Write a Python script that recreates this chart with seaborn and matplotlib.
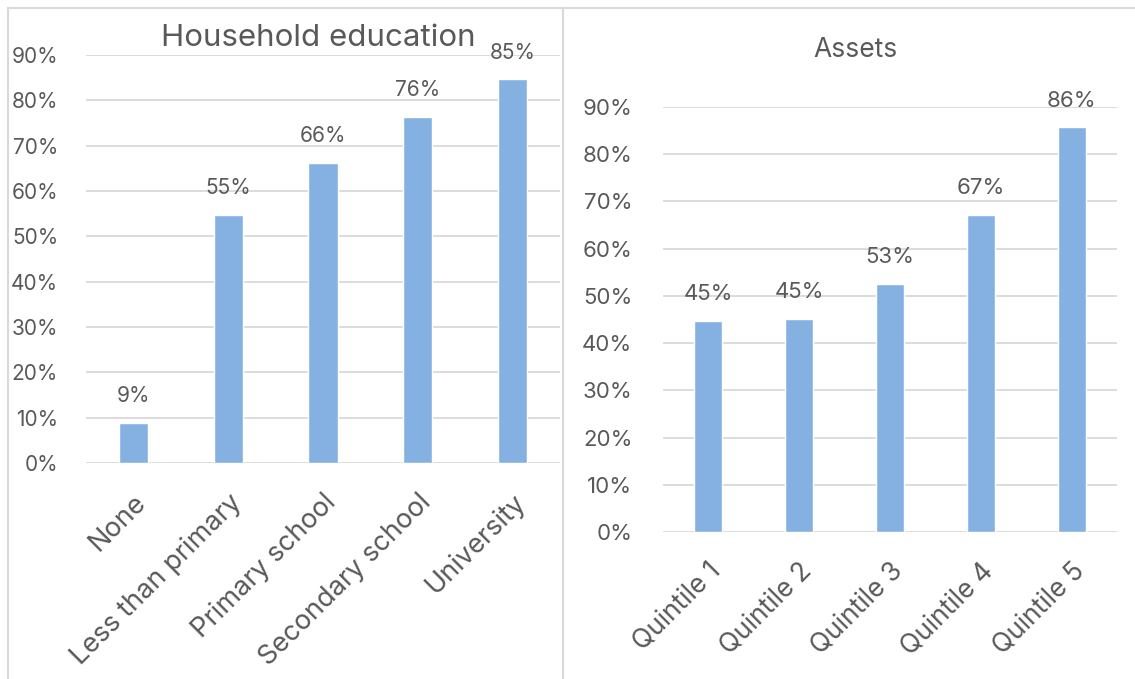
import numpy as np
import pandas as pd
import matplotlib
matplotlib.use("Agg")
import matplotlib.pyplot as plt
from matplotlib.lines import Line2D
from matplotlib.ticker import PercentFormatter
import seaborn as sns

# Data
edu_levels = ["None", "Less than primary", "Primary school", "Secondary school", "University"]
edu_share = [0.088, 0.547, 0.662, 0.764, 0.846]

asset_groups = ["Quintile 1", "Quintile 2", "Quintile 3", "Quintile 4", "Quintile 5"]
asset_share = [0.447, 0.451, 0.526, 0.672, 0.857]

bar_color = "#85B1E2"
text_color = "#595959"
grid_color = "#D9D9D9"

sns.set_theme(style="white")
plt.rcParams["font.family"] = ["Inter", "DejaVu Sans"]

fig = plt.figure(figsize=(11.35, 6.79), dpi=100)

# panel frames
for x in [8 / 1135, 563 / 1135]:
    fig.add_artist(Line2D([x, x], [0, 1 - 8 / 679], color=grid_color, lw=1.5))
fig.add_artist(Line2D([8 / 1135, 1], [1 - 8 / 679, 1 - 8 / 679], color=grid_color, lw=1.5))

ax1 = fig.add_axes([86 / 1135, 1 - 463 / 679, 474 / 1135, 408 / 679])
ax2 = fig.add_axes([663 / 1135, 1 - 532 / 679, 454 / 1135, 425 / 679])

# axis, labels, value font size, x font size, y pad
panels = [
    (ax1, edu_levels, edu_share, 15, 19.5, 20),
    (ax2, asset_groups, asset_share, 16, 19, 22),
]

for ax, cats, vals, fs, xfs, ypad in panels:
    df = pd.DataFrame({"cat": cats, "val": vals})
    sns.barplot(data=df, x="cat", y="val", color=bar_color, width=0.31,
                saturation=1, ax=ax, zorder=3)
    ax.set_ylim(0, 0.9)
    ax.set_yticks(np.arange(0, 0.91, 0.1))
    ax.yaxis.set_major_formatter(PercentFormatter(1.0, decimals=0))
    ax.grid(axis="y", color=grid_color, lw=1.3, zorder=0)
    ax.set_axisbelow(True)
    for s in ax.spines.values():
        s.set_visible(False)
    ax.set_xlabel("")
    ax.set_ylabel("")
    ax.tick_params(axis="y", labelsize=fs, labelcolor=text_color, length=0, pad=ypad)
    ax.tick_params(axis="x", labelsize=xfs, labelcolor=text_color, length=0, pad=19)
    plt.setp(ax.get_xticklabels(), rotation=45, ha="right", rotation_mode="anchor")
    for p, v in zip(ax.patches, vals):
        ax.annotate(f"{round(v * 100):d}%", (p.get_x() + p.get_width() / 2, p.get_height()),
                    xytext=(0, 12), textcoords="offset points", ha="center", va="bottom",
                    fontsize=fs, color=text_color, annotation_clip=False)
    ax.set_facecolor("none")

fig.text(318 / 1135, 1 - 38 / 679, "Household education", ha="center", va="center",
         fontsize=22.5, color=text_color)
fig.text(855 / 1135, 1 - 50 / 679, "Assets", ha="center", va="center",
         fontsize=19, color=text_color)

fig.savefig("out.png", dpi=100, facecolor="white")
